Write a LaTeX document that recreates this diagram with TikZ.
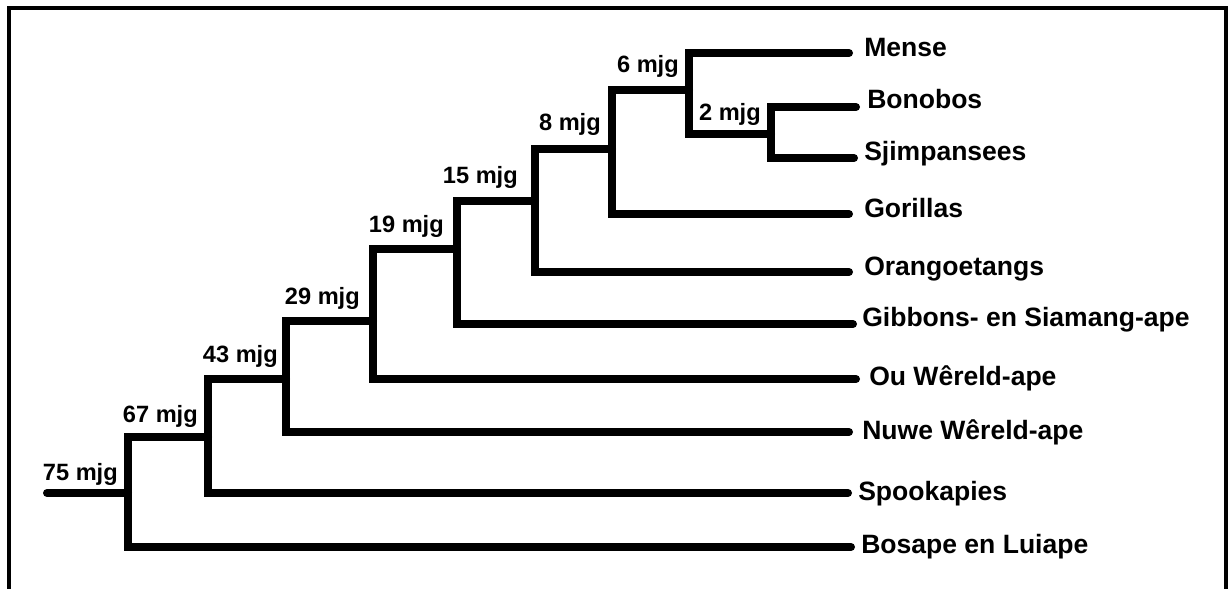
\documentclass[tikz,border=0pt]{standalone}
\usepackage{fontspec}
\setmainfont{Liberation Sans}
\begin{document}
\begin{tikzpicture}[x=0.75pt,y=-0.75pt,
  br/.style={line width=6pt, line cap=round, line join=miter},
  frame/.style={line width=3pt},
  leaf/.style={anchor=base west, inner sep=0pt, font=\bfseries\fontsize{19.9}{20}\selectfont},
  age/.style={anchor=base east, inner sep=0pt, font=\bfseries\fontsize{17.7}{18}\selectfont}]
\useasboundingbox (0,0) rectangle (1232,589);
\fill[white] (0,0) rectangle (1232,589);
% frame (open at the bottom)
\coordinate (fbl) at (9,589);
\coordinate (ftl) at (9,8);
\coordinate (ftr) at (1226,8);
\coordinate (fbr) at (1226,589);
\draw[frame] (fbl) -- (ftl) -- (ftr) -- (fbr);
% internal nodes
\coordinate (root) at (47,493);
\coordinate (n75) at (128,493);
\coordinate (n67) at (208,437);
\coordinate (n43) at (286,379);
\coordinate (n29) at (373,321);
\coordinate (n19) at (457,249);
\coordinate (n15) at (535,201);
\coordinate (n8) at (612,149);
\coordinate (n6) at (689,90);
\coordinate (n2) at (771,134);
% leaf ends
\coordinate (eMense) at (849,53);
\coordinate (eBonobos) at (856,107);
\coordinate (eSjimp) at (854,158);
\coordinate (eGorillas) at (849,214);
\coordinate (eOrang) at (849,272);
\coordinate (eGibbons) at (853,324);
\coordinate (eOu) at (856,379);
\coordinate (eNuwe) at (849,432);
\coordinate (eSpook) at (848,493);
\coordinate (eBosape) at (851,547);
% branches
\draw[br] (eBonobos) -| (n2) |- (eSjimp);
\draw[br] (eMense) -| (n6) |- (n2);
\draw[br] (n6) -| (n8) |- (eGorillas);
\draw[br] (n8) -| (n15) |- (eOrang);
\draw[br] (n15) -| (n19) |- (eGibbons);
\draw[br] (n19) -| (n29) |- (eOu);
\draw[br] (n29) -| (n43) |- (eNuwe);
\draw[br] (n43) -| (n67) |- (eSpook);
\draw[br] (n67) -| (n75) |- (eBosape);
\draw[br] (root) -- (n75);
% leaf labels
\node[leaf] (tMense) at (864,56) {Mense};
\node[leaf] (tBonobos) at (867,108) {Bonobos};
\node[leaf] (tSjimp) at (864,160) {Sjimpansees};
\node[leaf] (tGorillas) at (864,217) {Gorillas};
\node[leaf] (tOrang) at (864,275) {Orangoetangs};
\node[leaf] (tGibbons) at (862,326) {Gibbons- en Siamang-ape};
\node[leaf] (tOu) at (869,385) {Ou Wêreld-ape};
\node[leaf] (tNuwe) at (862,439) {Nuwe Wêreld-ape};
\node[leaf] (tSpook) at (858,500) {Spookapies};
\node[leaf] (tBosape) at (861,553) {Bosape en Luiape};
% age labels
\node[age] (a75) at (118,480) {75 mjg};
\node[age] (a67) at (198,422) {67 mjg};
\node[age] (a43) at (278,362) {43 mjg};
\node[age] (a29) at (360,304) {29 mjg};
\node[age] (a19) at (444,232) {19 mjg};
\node[age] (a15) at (518,183) {15 mjg};
\node[age] (a8) at (601,130) {8 mjg};
\node[age] (a6) at (679,72) {6 mjg};
\node[age] (a2) at (761,120) {2 mjg};
\end{tikzpicture}
\end{document}
